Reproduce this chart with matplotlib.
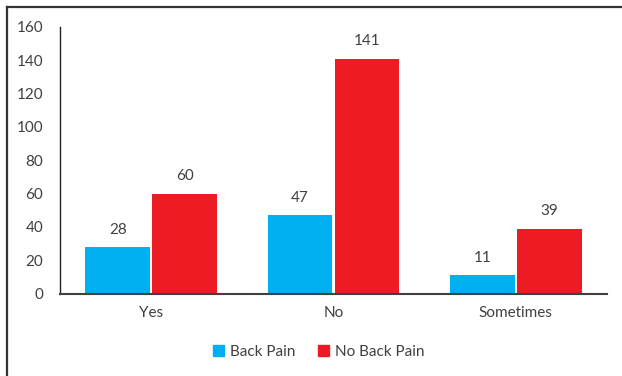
import matplotlib.pyplot as plt
from matplotlib.patches import Patch
from matplotlib.lines import Line2D
import numpy as np

# survey answers vs. back pain
categories = ["Yes", "No", "Sometimes"]
back_pain = [28, 47, 11]
no_back_pain = [60, 141, 39]
yticks = [0, 20, 40, 60, 80, 100, 120, 140, 160]

blue = "#00B0F0"
red = "#ED1C24"
textCol = "#404040"
fs = 11

plt.rcParams['font.family'] = ['Lato', 'DejaVu Sans']
plt.rcParams['font.size'] = fs

fig = plt.figure(figsize=(6.22, 3.76), dpi=100)
ax = fig.add_axes([60/622, 1 - 293.5/376, 547/622, 266.5/376])

x = np.arange(len(categories))
w = 0.356
off = 0.1836
bars1 = ax.bar(x - off, back_pain, w, color=blue)
bars2 = ax.bar(x + off, no_back_pain, w, color=red)

for bars, vals in [(bars1, back_pain), (bars2, no_back_pain)]:
	for b, v in zip(bars, vals):
		ax.annotate(str(v), (b.get_x() + b.get_width()/2, v), xytext=(0, 12.5),
			textcoords="offset points", ha="center", va="center", color=textCol, fontsize=fs)

ax.set_xlim(-0.5, len(categories) - 0.5)
ax.set_ylim(0, 160)
ax.set_yticks(yticks)
ax.set_xticks(x)
ax.set_xticklabels(categories)
ax.tick_params(axis='y', length=0, pad=12, colors=textCol, labelsize=fs)
ax.tick_params(axis='x', length=0, pad=9, colors=textCol, labelsize=fs)

for s in ["top", "right"]:
	ax.spines[s].set_visible(False)
ax.spines["left"].set_color("#222222")
ax.spines["left"].set_linewidth(1.0)
ax.spines["bottom"].set_color("#404040")
ax.spines["bottom"].set_linewidth(1.5)

handles = [Patch(color=blue, label="Back Pain"), Patch(color=red, label="No Back Pain")]
leg = fig.legend(handles=handles, loc="center", bbox_to_anchor=(319/622, 1 - 352/376), ncol=2,
	frameon=False, handlelength=0.7, handleheight=0.7, handletextpad=0.4, columnspacing=1.5,
	fontsize=fs)
for t in leg.get_texts():
	t.set_color(textCol)

# outer frame (left and top edges)
fig.add_artist(Line2D([6.5/622, 6.5/622], [0, 1 - 6.5/376], transform=fig.transFigure, color="#333333", lw=1.6))
fig.add_artist(Line2D([6.5/622, 1], [1 - 6.5/376, 1 - 6.5/376], transform=fig.transFigure, color="#333333", lw=1.6))

plt.savefig("out.png", dpi=100)
